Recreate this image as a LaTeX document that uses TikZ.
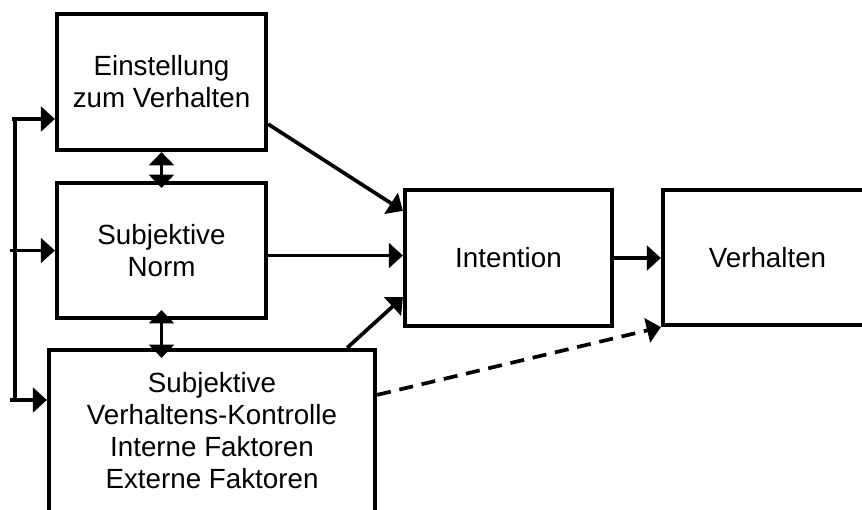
\documentclass[tikz,border=0pt]{standalone}
\usepackage{fontspec}
\setmainfont{Liberation Sans}
\usetikzlibrary{arrows.meta}

\tikzset{
  block/.style={draw, line width=2.4pt, align=center, inner sep=0pt,
    font=\fontsize{15.8}{18.2}\selectfont},
  arr/.style={line width=2.1pt, -{Triangle[length=8pt,width=14pt]}},
  dualarr/.style={line width=2.1pt, {Triangle[length=7.5pt,width=14pt]}-{Triangle[length=7.5pt,width=14pt]}},
}

\begin{document}
\begin{tikzpicture}
  \clip (0,0) rectangle (17.24,10.18);

  \node[block, minimum width=4.18cm, minimum height=2.72cm] (einst) at (3.23,8.54) {Einstellung\\zum Verhalten};
  \node[block, minimum width=4.18cm, minimum height=2.70cm] (norm) at (3.23,5.17) {Subjektive\\Norm};
  \node[block, minimum width=6.52cm, minimum height=3.24cm] (kontrolle) at (4.24,1.56) {Subjektive\\Verhaltens-Kontrolle\\Interne Faktoren\\Externe Faktoren};
  \node[block, minimum width=4.14cm, minimum height=2.72cm] (intention) at (10.17,5.02) {Intention};
  \node[block, minimum width=4.18cm, minimum height=2.70cm] (verhalten) at (15.35,5.03) {Verhalten};

  \coordinate (busT) at (0.3,7.8);
  \coordinate (busB) at (0.3,2.18);
  \coordinate (busN) at (0.2,5.17);
  \coordinate (busL) at (0.2,2.18);

  \draw[line width=2.1pt] (busT) -- (busB);
  \draw[arr] ([xshift=-0.06cm]busT) -- (busT -| einst.west);
  \draw[arr] (busN) -- (norm.west);
  \draw[arr] (busL) -- (busL -| kontrolle.west);

  \draw[dualarr, shorten >=-0.14cm] (einst.south) -- (norm.north);
  \draw[dualarr, shorten <=-0.2cm, shorten >=-0.2cm] (norm.south) -- (norm.south |- kontrolle.north);

  \draw[arr] ([yshift=0.56cm]einst.south east) -- ([yshift=-0.46cm]intention.north west);
  \draw[arr] ([yshift=-0.1cm]norm.east) -- ([yshift=-0.1cm]norm.east -| intention.west);
  \draw[arr] ([xshift=-0.6cm]kontrolle.north east) -- ([yshift=0.62cm]intention.south west);
  \draw[arr] (intention.east) -- (intention.east -| verhalten.west);
  \draw[arr, dash pattern=on 8pt off 5pt] ([yshift=-0.94cm]kontrolle.north east) -- (verhalten.south west);
\end{tikzpicture}
\end{document}
